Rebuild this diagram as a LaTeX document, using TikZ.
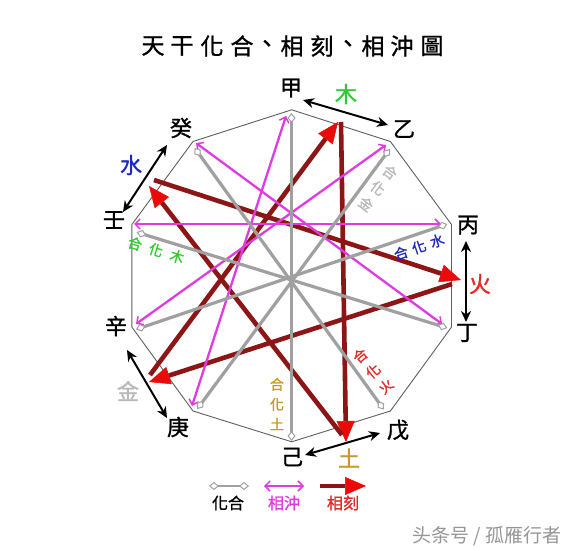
\documentclass[tikz,border=0pt]{standalone}
\usepackage{fontspec}
\newfontfamily\cjk{Noto Sans CJK TC}[FakeBold=1.2]
\newfontfamily\cjksc{Noto Sans CJK SC}
\usetikzlibrary{arrows.meta}
\definecolor{kered}{RGB}{140,22,22}
\definecolor{tipred}{RGB}{235,10,10}
\definecolor{chongm}{RGB}{222,60,225}
\definecolor{hegray}{RGB}{160,160,160}
\definecolor{edgegray}{RGB}{95,95,95}
\definecolor{mugreen}{RGB}{50,200,50}
\definecolor{huored}{RGB}{228,40,40}
\definecolor{tugold}{RGB}{205,150,45}
\definecolor{jingray}{RGB}{185,185,185}
\definecolor{shuiblue}{RGB}{30,40,190}
\definecolor{wmgray}{RGB}{150,150,150}
\begin{document}
\begin{tikzpicture}[x=1pt,y=-1pt,
  ke/.style={draw=kered, line width=4.6pt, -{Triangle[length=21pt,width=18pt,color=tipred,fill=tipred,line width=0.5pt]}},
  chong/.style={draw=chongm, line width=2.3pt, {Straight Barb[length=5pt,width=10pt,line width=1.5pt]}-{Straight Barb[length=5pt,width=10pt,line width=1.5pt]}},
  he/.style={draw=hegray, line width=3.2pt, {Diamond[length=10pt,width=8pt,fill=white,line width=1pt]}-{Diamond[length=10pt,width=8pt,fill=white,line width=1pt]}},
  bk/.style={draw=black, line width=2pt, {Stealth[length=11pt,width=10pt]}-{Stealth[length=11pt,width=10pt]}},
  stem/.style={inner sep=0pt, font=\cjk\fontsize{22}{22}\selectfont},
  elem/.style={inner sep=0pt, font=\cjk\fontsize{22}{22}\selectfont},
  small/.style={inner sep=0pt, align=center, font=\cjk\fontsize{14}{20}\selectfont},
  leg/.style={inner sep=0pt, font=\cjk\fontsize{16}{16}\selectfont},
  ttl/.style={inner sep=0pt, font=\cjk\fontsize{23}{23}\selectfont}
]
\path[use as bounding box, fill=white] (0,0) rectangle (582,551);

% title
\foreach \xx/\ch [count=\i] in {153/天,182/干,212/化,242/合,267/、,292/相,322/刻,348/、,373/相,402/沖,432/圖}
  \node[ttl] (t\i) at (\xx,46) {\ch};

% decagon vertices
\coordinate (vjia) at (291.7,109.8);
\coordinate (vyi) at (390.4,141.5);
\coordinate (vbing) at (451.5,224.5);
\coordinate (vding) at (451.5,327.1);
\coordinate (vwu) at (390.4,411.0);
\coordinate (vji) at (291.7,441.8);
\coordinate (vgeng) at (193.0,411.0);
\coordinate (vxin) at (131.9,327.1);
\coordinate (vren) at (131.9,224.5);
\coordinate (vgui) at (193.0,141.5);
\draw[edgegray, line width=0.9pt] (vjia) -- (vyi) -- (vbing) -- (vding) -- (vwu) -- (vji) -- (vgeng) -- (vxin) -- (vren) -- (vgui) -- cycle;

% ke (dark red) arrows
\coordinate (jinA) at (150,375);   \coordinate (muB) at (338,122);
\coordinate (muA) at (341,122);    \coordinate (tuB) at (346,442);
\coordinate (tuA) at (342,435);    \coordinate (shuiB) at (149,186);
\coordinate (shuiA) at (154,180);  \coordinate (huoB) at (461,280);
\coordinate (huoA) at (452,284);   \coordinate (jinB) at (149,382);
\draw[ke] (jinA) -- (muB);
\draw[ke] (muA) -- (tuB);
\draw[ke] (tuA) -- (shuiB);
\draw[ke] (shuiA) -- (huoB);
\draw[ke] (huoA) -- (jinB);

% chong (magenta) lines
\coordinate (cjia) at (286,116);  \coordinate (cgeng) at (192,406);
\coordinate (cyi) at (386,145);   \coordinate (cxin) at (136,324);
\coordinate (cbing) at (441,224); \coordinate (cren) at (134,224);
\coordinate (cding) at (442,324); \coordinate (cgui) at (196,143);
\draw[chong] (cjia) -- (cgeng);
\draw[chong] (cyi) -- (cxin);
\draw[chong] (cbing) -- (cren);
\draw[chong] (cding) -- (cgui);

% he (gray) lines
\coordinate (hjia) at (291.5,113);   \coordinate (hji) at (291.5,441);
\coordinate (hyi) at (389.8,149);    \coordinate (hgeng) at (197.2,409);
\coordinate (hbing) at (447.3,224);  \coordinate (hxin) at (136,329.4);
\coordinate (hding) at (447.3,328);  \coordinate (hren) at (136.7,232.2);
\coordinate (hwu) at (383.8,409.5);  \coordinate (hgui) at (194.6,147.9);
\draw[he] (hjia) -- (hji);
\draw[he] (hyi) -- (hgeng);
\draw[he] (hbing) -- (hxin);
\draw[he] (hding) -- (hren);
\draw[he] (hwu) -- (hgui);

% stem labels
\node[stem] (jia) at (291,88) {甲};
\node[stem] (yi) at (404,129) {乙};
\node[stem] (bing) at (468,225) {丙};
\node[stem] (ding) at (467,333) {丁};
\node[stem] (wu) at (398,430) {戊};
\node[stem] (ji) at (292,457) {己};
\node[stem] (geng) at (178,427) {庚};
\node[stem] (xin) at (116,326) {辛};
\node[stem] (ren) at (114,220) {壬};
\node[stem] (gui) at (181,128) {癸};

% black double arrows
\coordinate (b1a) at (303,100); \coordinate (b1b) at (388,125);
\coordinate (b2a) at (466,241); \coordinate (b2b) at (466,322);
\coordinate (b3a) at (380,433); \coordinate (b3b) at (305,455);
\coordinate (b4a) at (127,350); \coordinate (b4b) at (167,418);
\coordinate (b5a) at (123,212); \coordinate (b5b) at (167,145);
\draw[bk] (b1a) -- (b1b);
\draw[bk] (b2a) -- (b2b);
\draw[bk] (b3a) -- (b3b);
\draw[bk] (b4a) -- (b4b);
\draw[bk] (b5a) -- (b5b);

% element labels
\node[elem, text=mugreen] (mu) at (346,94) {木};
\node[elem, text=huored] (huo) at (480,284) {火};
\node[elem, text=tugold] (tu) at (349,458) {土};
\node[elem, text=jingray] (jin) at (128,391) {金};
\node[elem, text=shuiblue] (shui) at (131,165) {水};

% he-hua labels
\node[small, text=jingray, rotate=-37] (hhjin) at (378,188) {合\\化\\金};
\node[small, text=huored, rotate=40] (hhhuo) at (373,371) {合\\化\\火};
\node[small, text=tugold] (hhtu) at (277,404) {合\\化\\土};
\node[small, text=shuiblue, rotate=19] (hhshui) at (419,247) {合\hspace{5pt}化\hspace{5pt}水};
\node[small, text=mugreen, rotate=-17] (hhmu) at (156,250) {合\hspace{8pt}化\hspace{8pt}木};

% legend
\coordinate (l1a) at (209,486); \coordinate (l1b) at (249,486);
\coordinate (l2a) at (264,486); \coordinate (l2b) at (304,486);
\coordinate (l3a) at (320,486); \coordinate (l3b) at (366,486);
\draw[he, line width=2.8pt] (l1a) -- (l1b);
\draw[chong] (l2a) -- (l2b);
\draw[ke, line width=4pt] (l3a) -- (l3b);
\node[leg] (lhe) at (228,503) {化合};
\node[leg, text=chongm] (lchong) at (284,503) {相沖};
\node[leg, text=huored] (lke) at (343,503) {相刻};

% watermark
\node[inner sep=0pt, text=wmgray, font=\cjksc\fontsize{19}{19}\selectfont] (wm) at (487,536) {头条号 / 孤雁行者};
\end{tikzpicture}
\end{document}
